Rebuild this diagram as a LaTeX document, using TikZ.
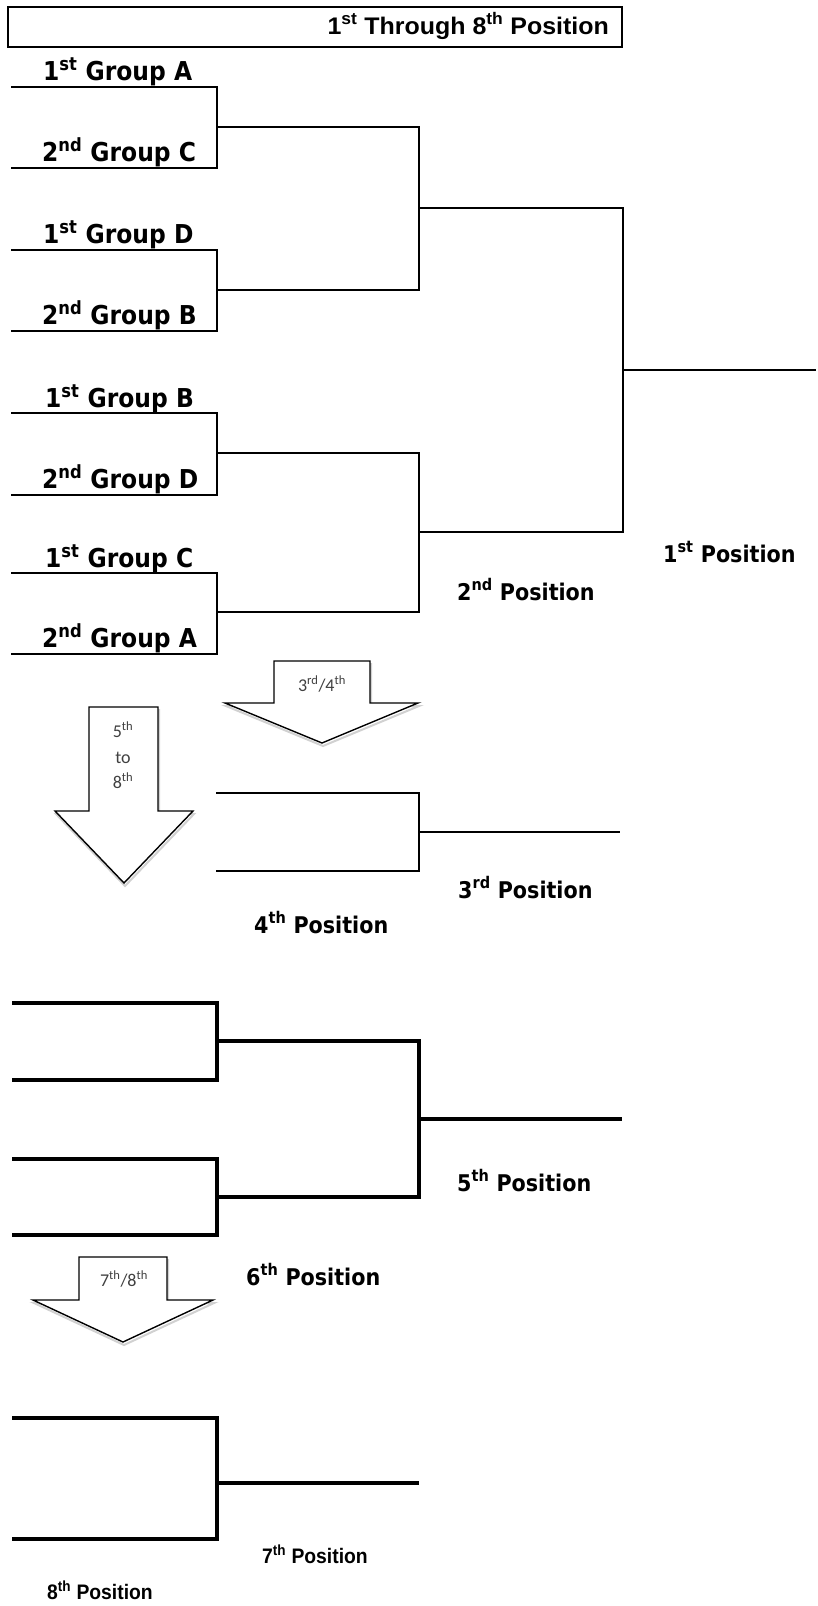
\documentclass[tikz,border=0pt]{standalone}
\usepackage{fontspec}
\setmainfont{Liberation Sans}
\newfontfamily\grpfont{DejaVu Sans Condensed}[BoldFont={DejaVu Sans Condensed Bold}]
\newfontfamily\arrfont{Carlito}
\newfontfamily\hdrfont{Liberation Sans}
\tikzset{
  brk/.style={line width=2pt, line join=miter, line cap=butt},
  brkthick/.style={line width=3.3pt, line join=miter, line cap=butt},
  grplabel/.style={anchor=base west, inner sep=0pt, font=\grpfont\bfseries\fontsize{26}{30}\selectfont},
  poslabel/.style={anchor=base west, inner sep=0pt, font=\grpfont\bfseries\fontsize{23}{27}\selectfont},
  arlabel/.style={anchor=base west, inner sep=0pt, font=\hdrfont\bfseries\fontsize{21}{25}\selectfont},
  hdrlabel/.style={anchor=base east, inner sep=0pt, font=\hdrfont\bfseries\fontsize{24}{28}\selectfont},
  arrtext/.style={anchor=base, inner sep=0pt, text=black!75, font=\arrfont\fontsize{18}{22}\selectfont},
  arrowshape/.style={draw=black, fill=white, line width=1.4pt, line join=miter},
  shadowshape/.style={draw=black!18, line width=2pt, line join=miter},
  hdrbox/.style={draw=black, line width=2pt}
}
\newcommand{\brkpath}[4]{\draw[#4] (#1) -| (#3) |- (#2);}
\begin{document}
\begin{tikzpicture}[x=1pt,y=-1pt]
\useasboundingbox (0,0) rectangle (818,1606);
% header
\node[hdrbox, minimum width=614pt, minimum height=40pt, anchor=north west, inner sep=0pt] (hdr) at (7,6) {};
\node[hdrlabel] (hdrtxt) at (609,34) {\scalebox{1.04}[1]{1\textsuperscript{st} Through 8\textsuperscript{th} Position}};
% ---------------- section 1 ----------------
\coordinate (g1) at (11,87);   \coordinate (g2) at (11,168);
\coordinate (g3) at (11,250);  \coordinate (g4) at (11,331);
\coordinate (g5) at (11,413);  \coordinate (g6) at (11,495);
\coordinate (g7) at (11,573);  \coordinate (g8) at (11,654);
\coordinate (q1) at (217,127); \coordinate (q2) at (217,290);
\coordinate (q3) at (217,453); \coordinate (q4) at (217,612);
\coordinate (s1) at (419,208); \coordinate (s2) at (419,532);
\coordinate (fn) at (622.5,370); \coordinate (w1) at (816,370);
\brkpath{g1}{g2}{q1}{brk}
\brkpath{g3}{g4}{q2}{brk}
\brkpath{g5}{g6}{q3}{brk}
\brkpath{g7}{g8}{q4}{brk}
\brkpath{q1}{q2}{s1}{brk}
\brkpath{q3}{q4}{s2}{brk}
\brkpath{s1}{s2}{fn}{brk}
\draw[brk] (fn) -- (w1);
\node[grplabel] (l1) at (43,80) {1\textsuperscript{st} Group A};
\node[grplabel] (l2) at (42,161) {2\textsuperscript{nd} Group C};
\node[grplabel] (l3) at (43,243) {1\textsuperscript{st} Group D};
\node[grplabel] (l4) at (42,324) {2\textsuperscript{nd} Group B};
\node[grplabel] (l5) at (45,407) {1\textsuperscript{st} Group B};
\node[grplabel] (l6) at (42,488) {2\textsuperscript{nd} Group D};
\node[grplabel] (l7) at (45,567) {1\textsuperscript{st} Group C};
\node[grplabel] (l8) at (42,647) {2\textsuperscript{nd} Group A};
\node[poslabel] (p1) at (663,562) {1\textsuperscript{st} Position};
\node[poslabel] (p2) at (457,600) {2\textsuperscript{nd} Position};
% ---------------- arrows ----------------
\path[shadowshape] (275,664) -- (371,664) -- (371,706) -- (419,706) -- (323,746) -- (226,706) -- (275,706);
\path[arrowshape] (274,661) -- (370,661) -- (370,703) -- (418,703) -- (322,743) -- (225,703) -- (274,703) -- cycle;
\node[arrtext] (a34) at (322,691) {3\textsuperscript{rd}/4\textsuperscript{th}};
\path[shadowshape] (90,710) -- (159,710) -- (159,814) -- (194,814) -- (125,886) -- (56,814) -- (90,814);
\path[arrowshape] (89,707) -- (158,707) -- (158,811) -- (193,811) -- (124,883) -- (55,811) -- (89,811) -- cycle;
\node[arrtext] (a58a) at (123,737) {5\textsuperscript{th}};
\node[arrtext] (a58b) at (123,763) {to};
\node[arrtext] (a58c) at (123,788) {8\textsuperscript{th}};
% ---------------- 3rd/4th ----------------
\coordinate (t1) at (216,793); \coordinate (t2) at (216,871);
\coordinate (tm) at (419,832); \coordinate (t3) at (620,832);
\brkpath{t1}{t2}{tm}{brk}
\draw[brk] (tm) -- (t3);
\node[poslabel] (p3) at (458,898) {3\textsuperscript{rd} Position};
\node[poslabel] (p4) at (254,933) {4\textsuperscript{th} Position};
% ---------------- 5th-8th ----------------
\coordinate (u1) at (12,1003);  \coordinate (u2) at (12,1080);
\coordinate (u3) at (12,1159);  \coordinate (u4) at (12,1235);
\coordinate (um1) at (217,1041); \coordinate (um2) at (217,1197);
\coordinate (un) at (419,1119);  \coordinate (u5) at (622,1119);
\brkpath{u1}{u2}{um1}{brkthick}
\brkpath{u3}{u4}{um2}{brkthick}
\brkpath{um1}{um2}{un}{brkthick}
\draw[brkthick] (un) -- (u5);
\node[poslabel] (p5) at (457,1191) {5\textsuperscript{th} Position};
\node[poslabel] (p6) at (246,1285) {6\textsuperscript{th} Position};
% 7th/8th arrow
\path[shadowshape] (80,1260) -- (168,1260) -- (168,1303) -- (214,1303) -- (124,1345) -- (34,1303) -- (80,1303);
\path[arrowshape] (79,1257) -- (167,1257) -- (167,1300) -- (213,1300) -- (123,1342) -- (33,1300) -- (79,1300) -- cycle;
\node[arrtext] (a78) at (124,1286) {7\textsuperscript{th}/8\textsuperscript{th}};
% ---------------- 7th/8th ----------------
\coordinate (v1) at (12,1418); \coordinate (v2) at (12,1539);
\coordinate (vm) at (217,1483); \coordinate (v3) at (419,1483);
\brkpath{v1}{v2}{vm}{brkthick}
\draw[brkthick] (vm) -- (v3);
\node[arlabel] (p7) at (262,1563) {\scalebox{0.92}[1]{7\textsuperscript{th} Position}};
\node[arlabel] (p8) at (47,1599) {\scalebox{0.92}[1]{8\textsuperscript{th} Position}};
\end{tikzpicture}
\end{document}
